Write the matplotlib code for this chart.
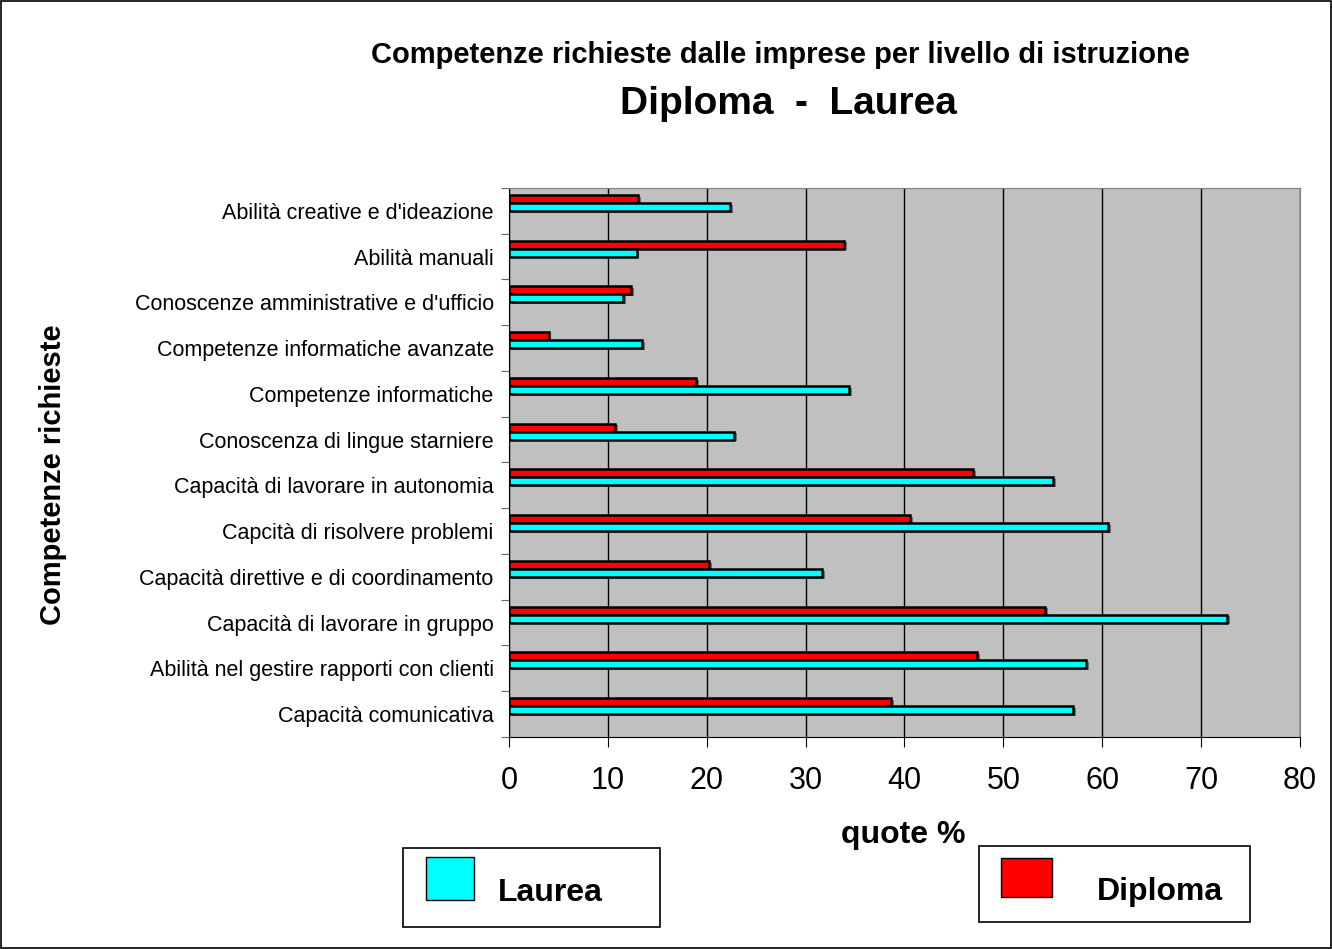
import matplotlib
matplotlib.use("Agg")
import matplotlib.pyplot as plt
import numpy as np
from matplotlib.patches import Rectangle

plt.rcParams['font.family'] = ['Liberation Sans', 'DejaVu Sans']

# dati (dall'alto in basso)
competenze = ["Abilità creative e d'ideazione", "Abilità manuali",
              "Conoscenze amministrative e d'ufficio",
              "Competenze informatiche avanzate", "Competenze informatiche",
              "Conoscenza di lingue starniere",
              "Capacità di lavorare in autonomia",
              "Capcità di risolvere problemi",
              "Capacità direttive e di coordinamento",
              "Capacità di lavorare in gruppo",
              "Abilità nel gestire rapporti con clienti",
              "Capacità comunicativa"]
diploma = [13.1, 33.9, 12.3, 4.0, 18.9, 10.7, 46.9, 40.6, 20.2, 54.2, 47.3, 38.6]
laurea = [22.4, 12.9, 11.5, 13.5, 34.4, 22.8, 55.0, 60.6, 31.7, 72.6, 58.4, 57.0]
xticks = [0, 10, 20, 30, 40, 50, 60, 70, 80]

fig = plt.figure(figsize=(13.32, 9.49), dpi=100)
fig.patch.set_facecolor('white')
fig.patches.append(Rectangle((0.0008, 0.001), 0.9985, 0.998, transform=fig.transFigure,
                             fill=False, edgecolor='black', linewidth=1.2))

ax = fig.add_axes([0.3821, 0.2234, 0.5939, 0.5785])
ax.set_facecolor('#C0C0C0')

y = np.arange(len(competenze))
h = 0.175
# ombra leggera
ax.barh(y - 0.26 + 0.035, diploma, height=h, left=0.3, color='#707070', zorder=2)
ax.barh(y - 0.085 + 0.035, laurea, height=h, left=0.3, color='#707070', zorder=2)
ax.barh(y - 0.26, diploma, height=h, color='#FF0000', edgecolor='black', linewidth=1.8, zorder=3)
ax.barh(y - 0.085, laurea, height=h, color='#00FFFF', edgecolor='black', linewidth=1.8, zorder=3)

ax.set_xlim(0, 80)
ax.set_ylim(len(competenze) - 0.5, -0.5)
ax.set_xticks(xticks)
ax.set_xticklabels([str(v) for v in xticks], fontsize=22)
ax.xaxis.grid(True, color='black', linewidth=1.0, zorder=1)
ax.set_axisbelow(True)

ax.set_yticks(np.arange(-0.5, len(competenze)), minor=False)
ax.set_yticklabels([])
ax.set_yticks(y, minor=True)
ax.set_yticklabels(competenze, minor=True, fontsize=15.5)
ax.tick_params(axis='y', which='minor', length=0, pad=11)
ax.tick_params(axis='y', which='major', length=6, color='#666666', direction='out')
ax.tick_params(axis='x', length=7, direction='out', pad=14)

ax.spines['top'].set_color('#808080')
ax.spines['right'].set_color('#808080')
ax.spines['left'].set_color('black')
ax.spines['bottom'].set_color('black')

fig.text(0.586, 0.942, "Competenze richieste dalle imprese per livello di istruzione",
         ha='center', va='center', fontsize=21, fontweight='bold')
fig.text(0.592, 0.89, "Diploma  -  Laurea", ha='center', va='center',
         fontsize=28, fontweight='bold')
fig.text(0.040, 0.5, "Competenze richieste", rotation=90, ha='center', va='center',
         fontsize=21, fontweight='bold')
fig.text(0.678, 0.12, "quote %", ha='center', va='center', fontsize=23, fontweight='bold')

# legende separate come nel grafico originale
def box(x0, y0, x1, y1, col, testo, sq, tx):
    W, H = 1332, 949
    fig.patches.append(Rectangle((x0 / W, 1 - y1 / H), (x1 - x0) / W, (y1 - y0) / H,
                                 transform=fig.transFigure, facecolor='white',
                                 edgecolor='black', linewidth=1.2))
    fig.patches.append(Rectangle((sq[0] / W, 1 - sq[3] / H), (sq[2] - sq[0]) / W,
                                 (sq[3] - sq[1]) / H, transform=fig.transFigure,
                                 facecolor=col, edgecolor='black', linewidth=1.0))
    fig.text(tx[0] / 1332, 1 - tx[1] / 949, testo, ha='center', va='center',
             fontsize=23, fontweight='bold')

box(403, 848, 660, 927, '#00FFFF', "Laurea", (426, 857, 474, 900), (550, 893))
box(979, 846, 1250, 922, '#FF0000', "Diploma", (1001, 858, 1052, 897), (1160, 892))

fig.savefig("out.png", dpi=100)
